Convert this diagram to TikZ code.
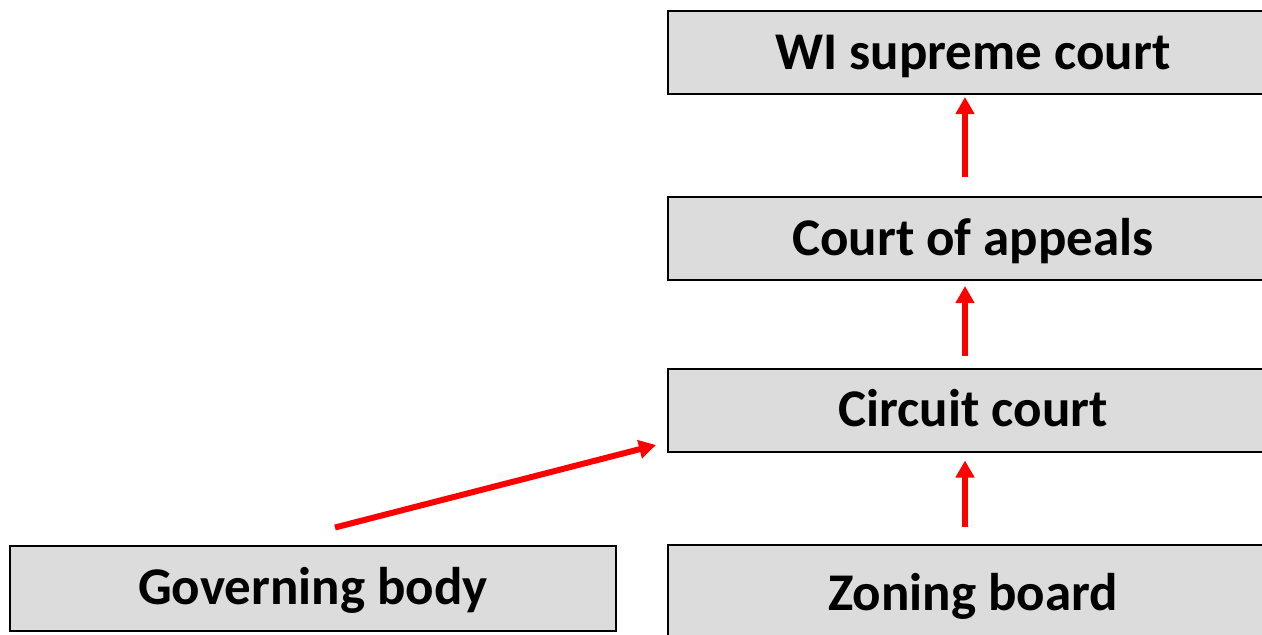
\documentclass[tikz,border=0pt]{standalone}
\usepackage{fontspec}
\setmainfont{Carlito}
\usetikzlibrary{arrows.meta}
\definecolor{boxgray}{HTML}{DCDCDC}
\definecolor{arrred}{HTML}{FF0000}
\tikzset{
  box/.style={draw=black, line width=2pt, fill=boxgray, minimum width=610pt, minimum height=83pt, inner sep=0pt, text height=33.5pt, text depth=0pt, font=\fontsize{53}{60}\selectfont\bfseries},
  arr/.style={draw=arrred, line width=6pt, -{Triangle[length=17pt,width=18pt]}}
}
\begin{document}
\begin{tikzpicture}[x=1pt,y=-1pt]
\useasboundingbox (0,0) rectangle (1262,635);
\clip (0,0) rectangle (1262,635);
\node[box] (sc) at (973,52.5) {WI supreme court};
\node[box] (ca) at (973,238.5) {Court of appeals};
\node[box] (cc) at (973,410) {Circuit court};
\node[box, minimum height=97pt] (zb) at (973,593.5) {Zoning board};
\node[box, minimum width=606pt, minimum height=85pt] (gb) at (313,588) {Governing body};
\draw[arr] ([xshift=-8pt,yshift=19pt]ca.north) -- ([xshift=-8pt,yshift=-2pt]sc.south);
\draw[arr] ([xshift=-8pt,yshift=12pt]cc.north) -- ([xshift=-8pt,yshift=-5pt]ca.south);
\draw[arr] ([xshift=-8pt,yshift=17pt]zb.north) -- ([xshift=-8pt,yshift=-8pt]cc.south);
\draw[arr] ([xshift=22pt,yshift=17pt]gb.north) -- ([xshift=-11pt,yshift=-35pt]cc.west);
\end{tikzpicture}
\end{document}
